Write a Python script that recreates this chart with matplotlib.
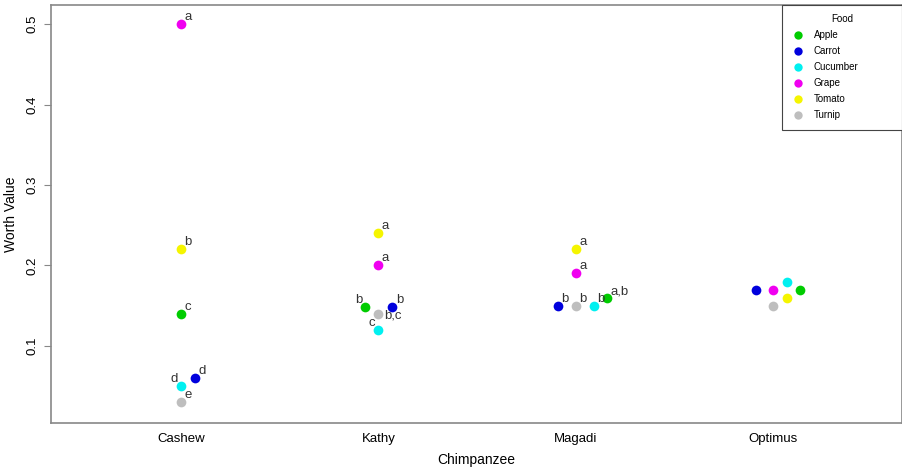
import matplotlib
matplotlib.use("Agg")
import matplotlib.pyplot as plt
from matplotlib.lines import Line2D

plt.rcParams['font.family'] = ['Liberation Sans', 'DejaVu Sans']

# 数据
chimps = ["Cashew", "Kathy", "Magadi", "Optimus"]
foods = ["Apple", "Carrot", "Cucumber", "Grape", "Tomato", "Turnip"]

apple = [0.14, 0.148, 0.159, 0.17]
carrot = [0.06, 0.148, 0.149, 0.17]
cucumber = [0.05, 0.12, 0.149, 0.18]
grape = [0.50, 0.20, 0.19, 0.17]
tomato = [0.22, 0.24, 0.22, 0.159]
turnip = [0.03, 0.14, 0.149, 0.149]

# 显著性字母
apple_lab = ["c", "b", "a,b", ""]
carrot_lab = ["d", "b", "b", ""]
cucumber_lab = ["d", "c", "b", ""]
grape_lab = ["a", "a", "a", ""]
tomato_lab = ["b", "a", "a", ""]
turnip_lab = ["e", "b,c", "b", ""]

values = [apple, carrot, cucumber, grape, tomato, turnip]
labels = [apple_lab, carrot_lab, cucumber_lab, grape_lab, tomato_lab, turnip_lab]

# 点的水平错位 (dodge) 和字母位置
dodge = [[0, -0.066, 0.157, 0.137],
         [0.07, 0.07, -0.09, -0.09],
         [0, 0, 0.09, 0.07],
         [0, 0, 0, 0],
         [0, 0, 0, 0.07],
         [0, 0, 0, 0]]
side = [["r", "l", "r", "r"],
        ["r", "r", "r", "r"],
        ["l", "l", "r", "r"],
        ["r", "r", "r", "r"],
        ["r", "r", "r", "r"],
        ["r", "c", "r", "r"]]
colors = ["#00CC00", "#0000DD", "#00F0F0", "#F000F0", "#F5F500", "#BEBEBE"]

fig = plt.figure(figsize=(9.03, 4.72), dpi=100)
ax = fig.add_axes([51/903, 49/472, 851/903, 418/472])

for i in range(len(foods)):
    for j in range(len(chimps)):
        x = j + 1 + dodge[i][j]
        y = values[i][j]
        ax.plot(x, y, 'o', color=colors[i], markersize=7, markeredgewidth=0)
        t = labels[i][j]
        if not t:
            continue
        if side[i][j] == "r":
            ax.annotate(t, (x, y), xytext=(2.5, 0.8), textcoords="offset points",
                        ha="left", va="bottom", fontsize=9.5, color="#333333")
        elif side[i][j] == "l":
            ax.annotate(t, (x, y), xytext=(-2.5, 0.8), textcoords="offset points",
                        ha="right", va="bottom", fontsize=9.5, color="#333333")
        else:
            ax.annotate(t, (x, y), xytext=(4, -1), textcoords="offset points",
                        ha="left", va="center", fontsize=9.5, color="#333333")

ax.set_xlim(0.342, 4.651)
ax.set_ylim(0.004, 0.524)
ax.set_xticks(range(1, len(chimps) + 1))
ax.set_xticklabels(chimps, fontsize=9.5)
ax.tick_params(axis="x", length=0, pad=7)
ax.set_yticks([0.1, 0.2, 0.3, 0.4, 0.5])
ax.set_yticklabels(["0.1", "0.2", "0.3", "0.4", "0.5"], rotation=90, va="center", fontsize=9.5)
ax.tick_params(axis="y", length=5, color="#888888", pad=4)
for s in ax.spines.values():
    s.set_color("#888888")
    s.set_linewidth(1.2)
ax.set_xlabel("Chimpanzee", fontsize=10, labelpad=6)
ax.set_ylabel("Worth Value", fontsize=10, labelpad=6)

handles = [Line2D([], [], marker='o', ls='', color=c, markersize=6, markeredgewidth=0)
           for c in colors]
leg = ax.legend(handles, foods, title="Food", loc="upper left",
                bbox_to_anchor=(0.859, 0.696, 0.141, 0.304), mode="expand",
                borderaxespad=0, fontsize=7, title_fontsize=7, fancybox=False,
                framealpha=1, edgecolor="#444444", handletextpad=0.9,
                labelspacing=0.62, borderpad=0.95, handlelength=1.4)
leg.get_frame().set_linewidth(0.8)

fig.savefig("out.png", dpi=100)
